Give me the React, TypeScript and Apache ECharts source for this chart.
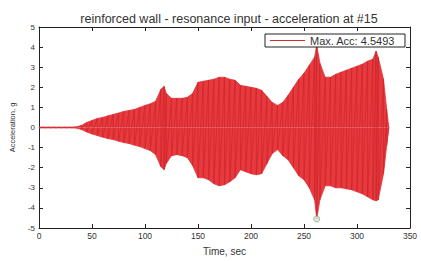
import React, { useEffect, useRef } from "react";
import * as echarts from "echarts";

const TITLE = "reinforced wall - resonance input - acceleration at #15";
const X_NAME = "Time, sec";
const Y_NAME = "Acceleration, g";
const LEGEND_NAME = "Max. Acc: 4.5493";

// envelope of the acceleration record (time in s, acceleration in g)
const times = [
  0, 5, 10, 15, 20, 25, 30, 35, 40, 45, 50, 55, 60, 65, 70, 75, 80, 85, 90, 95,
  100, 105, 110, 115, 118, 120, 125, 130, 135, 140, 145, 150, 155, 160, 165, 170,
  175, 180, 185, 190, 195, 200, 205, 210, 215, 220, 225, 230, 235, 240, 245, 250,
  255, 260, 262, 265, 270, 275, 280, 285, 290, 295, 300, 305, 310, 315, 318, 320,
  325, 328, 330,
];
const upper = [
  0.02, 0.02, 0.02, 0.02, 0.02, 0.02, 0.02, 0.03, 0.1, 0.25, 0.35, 0.45, 0.5, 0.58, 0.65, 0.72, 0.8, 0.85, 0.9, 1.0,
  1.1, 1.18, 1.3, 1.9, 2.05, 1.7, 1.45, 1.45, 1.45, 1.5, 1.7, 2.25, 2.3, 2.35, 2.4, 2.5,
  2.5, 2.4, 2.35, 2.1, 2.05, 2.0, 1.95, 1.85, 1.55, 1.25, 1.1, 1.25, 1.6, 2.0, 2.4, 2.7,
  3.1, 3.5, 4.1, 3.2, 2.5, 2.5, 2.65, 2.75, 2.85, 2.95, 3.05, 3.15, 3.3, 3.4, 3.8, 3.5,
  2.4, 0.9, 0.02,
];
const lower = [
  -0.02, -0.02, -0.02, -0.02, -0.02, -0.02, -0.02, -0.03, -0.1, -0.22, -0.32, -0.4, -0.48, -0.55, -0.6, -0.68, -0.75, -0.8, -0.88, -0.95,
  -1.05, -1.15, -1.35, -1.95, -2.1, -1.8, -1.4, -1.35, -1.4, -1.5, -1.9, -2.5, -2.5, -2.6, -2.8, -2.9,
  -2.85, -2.7, -2.5, -2.1, -2.2, -2.3, -2.35, -2.3, -1.8, -1.3, -1.1, -1.4, -1.6, -2.0, -2.4, -2.6,
  -3.0, -3.6, -4.55, -3.6, -2.9, -2.9, -3.0, -3.0, -3.05, -3.1, -3.2, -3.3, -3.45, -3.6, -3.65, -3.6,
  -2.3, -0.9, -0.02,
];
const minPoint = [262, -4.55];

const xTicks = ["0", "50", "100", "150", "200", "250", "300", "350"];
const yTicks = ["-5", "-4", "-3", "-2", "-1", "0", "1", "2", "3", "4", "5"];

export default function App() {
  const ref = useRef<HTMLDivElement>(null);
  useEffect(() => {
    if (!ref.current) return;
    const chart = echarts.init(ref.current, null, { renderer: "svg" });
    const upData = times.map((t, i) => [t, upper[i]]);
    const loData = times.map((t, i) => [t, lower[i]]);
    const zig: number[][] = [];
    times.forEach((t, i) => {
      zig.push([t, upper[i]]);
      zig.push([t, lower[i]]);
    });
    const font = "Liberation Sans, Arial, sans-serif";
    const axisLine = { show: true, onZero: false, lineStyle: { color: "#222", width: 1 } };
    const tick = { show: true, inside: true, length: 4, lineStyle: { color: "#222" } };
    chart.setOption({
      animation: false,
      backgroundColor: "#fff",
      textStyle: { fontFamily: font },
      title: {
        text: TITLE,
        left: 224,
        top: 7,
        textAlign: "center",
        textStyle: { fontSize: 12.5, fontWeight: "normal", color: "#333", fontFamily: font },
      },
      legend: {
        data: [{ name: LEGEND_NAME, icon: "rect" }],
        left: 265,
        top: 34,
        padding: [1, 10, 1, 5],
        itemWidth: 35,
        itemHeight: 1,
        itemGap: 6,
        borderColor: "#222",
        borderWidth: 1,
        backgroundColor: "#fff",
        borderRadius: 0,
        textStyle: { fontSize: 11, color: "#333", fontFamily: font, padding: [0, 0, 0, 0] },
      },
      grid: { left: 38, right: 11, top: 27, bottom: 23, containLabel: false },
      xAxis: [
        {
          type: "value",
          min: 0,
          max: 350,
          interval: 50,
          name: X_NAME,
          nameLocation: "middle",
          nameGap: 18,
          nameTextStyle: { fontSize: 10, color: "#333" },
          axisLine,
          axisTick: tick,
          splitLine: { show: false },
          axisLabel: {
            fontSize: 8.5,
            color: "#333",
            margin: 3,
            formatter: (v: number) => xTicks[Math.round(v / 50)] ?? "",
          },
        },
        {
          type: "value",
          position: "top",
          min: 0,
          max: 350,
          interval: 50,
          axisLine,
          axisTick: tick,
          axisLabel: { show: false },
          splitLine: { show: false },
        },
      ],
      yAxis: [
        {
          type: "value",
          min: -5,
          max: 5,
          interval: 1,
          name: Y_NAME,
          nameLocation: "middle",
          nameGap: 23,
          nameTextStyle: { fontSize: 7.5, color: "#333" },
          axisLine,
          axisTick: tick,
          splitLine: { show: false },
          axisLabel: {
            fontSize: 8,
            color: "#333",
            margin: 4,
            formatter: (v: number) => yTicks[Math.round(v + 5)] ?? "",
          },
        },
        {
          type: "value",
          position: "right",
          min: -5,
          max: 5,
          interval: 1,
          axisLine,
          axisTick: tick,
          axisLabel: { show: false },
          splitLine: { show: false },
        },
      ],
      series: [
        {
          type: "line",
          name: "upper",
          data: upData,
          symbol: "none",
          lineStyle: { width: 0.8, color: "#e0363b" },
          areaStyle: { color: "#e8393e", opacity: 1 },
          z: 2,
        },
        {
          type: "line",
          name: "lower",
          data: loData,
          symbol: "none",
          lineStyle: { width: 0.8, color: "#e0363b" },
          areaStyle: { color: "#e8393e", opacity: 1 },
          z: 2,
        },
        {
          type: "line",
          name: LEGEND_NAME,
          data: zig,
          symbol: "none",
          lineStyle: { width: 0.6, color: "#c42328" },
          itemStyle: { color: "#d62c31" },
          z: 3,
        },
        {
          type: "scatter",
          name: "min",
          data: [minPoint],
          symbol: "circle",
          symbolSize: 6,
          itemStyle: { color: "#d8e6cf", borderColor: "#8fa38a", borderWidth: 1 },
          z: 4,
        },
      ],
    });
    return () => chart.dispose();
  }, []);
  return <div ref={ref} style={{ width: 421, height: 261, position: "absolute", left: 0, top: 0 }} />;
}
